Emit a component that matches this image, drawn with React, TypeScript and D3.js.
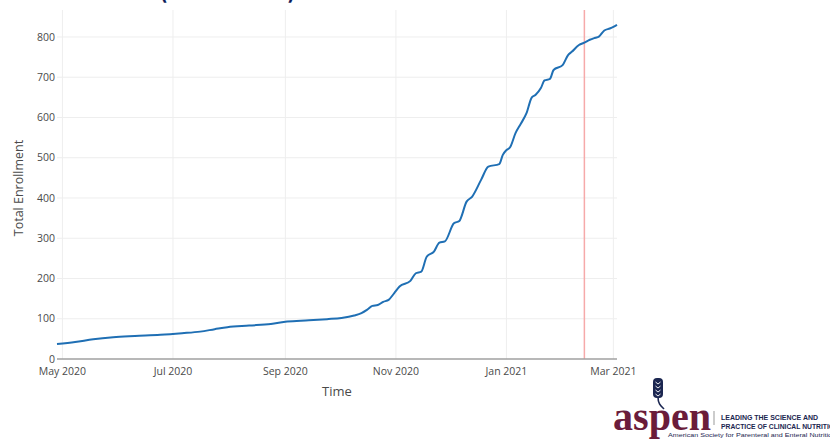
import { useEffect, useRef } from 'react';
import * as d3 from 'd3';

// cumulative enrollment
const dates = [
  '2020-04-28', '2020-05-08', '2020-05-18', '2020-05-29', '2020-06-10', '2020-06-24',
  '2020-07-06', '2020-07-16', '2020-07-24', '2020-07-31', '2020-08-12', '2020-08-24',
  '2020-09-02', '2020-09-14', '2020-09-24', '2020-10-02', '2020-10-09', '2020-10-13',
  '2020-10-16', '2020-10-19', '2020-10-22', '2020-10-25', '2020-10-28', '2020-10-31',
  '2020-11-03', '2020-11-09', '2020-11-12', '2020-11-15', '2020-11-18', '2020-11-22',
  '2020-11-25', '2020-11-28', '2020-12-03', '2020-12-06', '2020-12-10', '2020-12-13',
  '2020-12-18', '2020-12-22', '2020-12-28', '2020-12-30', '2021-01-01', '2021-01-03',
  '2021-01-06', '2021-01-09', '2021-01-12', '2021-01-15', '2021-01-17', '2021-01-20',
  '2021-01-22', '2021-01-25', '2021-01-27', '2021-02-01', '2021-02-04', '2021-02-06',
  '2021-02-10', '2021-02-13', '2021-02-16', '2021-02-19', '2021-02-21', '2021-02-24',
  '2021-02-27', '2021-03-01', '2021-03-03',
];
const enrollment = [
  37, 42, 49, 54, 57, 60,
  64, 68, 74, 79, 83, 87,
  93, 96, 99, 102, 108, 114,
  122, 132, 134, 142, 147, 163,
  180, 194, 213, 217, 254, 267,
  289, 292, 337, 343, 391, 403,
  445, 478, 484, 507, 519, 526,
  561, 585, 610, 650, 656, 673,
  692, 696, 718, 730, 755, 763,
  780, 786, 793, 798, 801, 816,
  821, 825, 830,
];
const xTickDates = ['2020-05-01', '2020-07-01', '2020-09-01', '2020-11-01', '2021-01-01', '2021-03-01'];
const yTicks = [0, 100, 200, 300, 400, 500, 600, 700, 800];
const markerDate = '2021-02-13';

const App = () => {
  const svgRef = useRef<SVGSVGElement>(null);

  useEffect(() => {
    const width = 830;
    const height = 439;
    const parse = d3.timeParse('%Y-%m-%d');
    const data = dates.map((d, i) => ({ date: parse(d) as Date, value: enrollment[i] }));

    const svg = d3.select(svgRef.current);
    svg.selectAll('*').remove();
    svg.attr('width', width).attr('height', height);

    const left = 57, right = 617, top = 10, bottom = 359;

    const x = d3
      .scaleTime()
      .domain(d3.extent(data, d => d.date) as [Date, Date])
      .range([left, right]);
    const y = d3.scaleLinear().domain([0, 867]).range([bottom, top]);

    svg.append('rect').attr('width', width).attr('height', height).attr('fill', '#fff');

    // cut-off slide title
    svg
      .append('text')
      .attr('x', 160)
      .attr('y', -2)
      .style('font-family', '"Open Sans", sans-serif')
      .style('font-size', '30px')
      .style('font-weight', 'bold')
      .attr('fill', '#0b1d5c')
      .attr('textLength', 135)
      .attr('lengthAdjust', 'spacingAndGlyphs')
      .text('(Cumulative)');

    const tickDates = xTickDates.map(d => parse(d) as Date);

    // grid
    svg
      .append('g')
      .selectAll('line')
      .data(tickDates)
      .enter()
      .append('line')
      .attr('x1', d => x(d))
      .attr('x2', d => x(d))
      .attr('y1', top)
      .attr('y2', bottom)
      .attr('stroke', '#eee')
      .attr('stroke-width', 1);
    svg
      .append('g')
      .selectAll('line')
      .data(yTicks.slice(1))
      .enter()
      .append('line')
      .attr('x1', left)
      .attr('x2', right)
      .attr('y1', d => y(d))
      .attr('y2', d => y(d))
      .attr('stroke', '#eee')
      .attr('stroke-width', 1);

    // marker line
    const md = parse(markerDate) as Date;
    svg
      .append('line')
      .attr('x1', x(md))
      .attr('x2', x(md))
      .attr('y1', top)
      .attr('y2', bottom)
      .attr('stroke', '#f6aaaa')
      .attr('stroke-width', 1.5);

    // axis line
    svg
      .append('line')
      .attr('x1', left)
      .attr('x2', right)
      .attr('y1', y(0))
      .attr('y2', y(0))
      .attr('stroke', '#a0a0a0')
      .attr('stroke-width', 1.5);

    // tick labels
    const fmt = d3.timeFormat('%b %Y');
    svg
      .append('g')
      .selectAll('text')
      .data(tickDates)
      .enter()
      .append('text')
      .attr('x', d => x(d))
      .attr('y', 375)
      .attr('text-anchor', 'middle')
      .style('font-family', '"Open Sans", sans-serif')
      .style('font-size', '10.5px')
      .attr('fill', '#4a4a4a')
      .text(d => fmt(d));
    svg
      .append('g')
      .selectAll('text')
      .data(yTicks)
      .enter()
      .append('text')
      .attr('x', 55)
      .attr('y', d => y(d))
      .attr('dy', '0.34em')
      .attr('text-anchor', 'end')
      .style('font-family', '"Open Sans", sans-serif')
      .style('font-size', '10.5px')
      .attr('fill', '#4a4a4a')
      .text(d => String(d));

    // axis titles
    svg
      .append('text')
      .attr('x', 337)
      .attr('y', 396)
      .attr('text-anchor', 'middle')
      .style('font-family', '"Open Sans", sans-serif')
      .style('font-size', '13px')
      .attr('fill', '#4a4a4a')
      .text('Time');
    svg
      .append('text')
      .attr('transform', 'translate(23, 188) rotate(-90)')
      .attr('text-anchor', 'middle')
      .style('font-family', '"Open Sans", sans-serif')
      .style('font-size', '12.5px')
      .attr('fill', '#4a4a4a')
      .text('Total Enrollment');

    // series
    const line = d3
      .line<{ date: Date; value: number }>()
      .x(d => x(d.date))
      .y(d => y(d.value))
      .curve(d3.curveMonotoneX);
    svg
      .append('path')
      .datum(data)
      .attr('fill', 'none')
      .attr('stroke', '#1f6fb4')
      .attr('stroke-width', 2)
      .attr('stroke-linejoin', 'round')
      .attr('d', line);

    // ASPEN logo
    const logo = svg.append('g');
    logo
      .append('path')
      .attr('d', 'M658,397 C658,404 661,406 664,409')
      .attr('fill', 'none')
      .attr('stroke', '#1b2650')
      .attr('stroke-width', 1.6);
    logo
      .append('rect')
      .attr('x', 653)
      .attr('y', 378)
      .attr('width', 10)
      .attr('height', 20)
      .attr('rx', 4)
      .attr('fill', '#1b2650');
    logo
      .append('g')
      .selectAll('path')
      .data([382, 386, 390, 394])
      .enter()
      .append('path')
      .attr('d', d => `M655.5,${d} L658,${d + 2} L660.5,${d}`)
      .attr('fill', 'none')
      .attr('stroke', '#fff')
      .attr('stroke-width', 0.9);
    logo
      .append('text')
      .attr('x', 613)
      .attr('y', 430)
      .style('font-family', '"Liberation Serif", serif')
      .style('font-size', '39px')
      .style('font-weight', 'bold')
      .attr('fill', '#6a1c3a')
      .attr('textLength', 98)
      .attr('lengthAdjust', 'spacingAndGlyphs')
      .text('aspen');
    logo
      .append('line')
      .attr('x1', 714)
      .attr('x2', 714)
      .attr('y1', 411)
      .attr('y2', 425)
      .attr('stroke', '#999')
      .attr('stroke-width', 1);
    logo
      .append('text')
      .attr('x', 721)
      .attr('y', 420)
      .style('font-family', '"Liberation Sans", sans-serif')
      .style('font-size', '8px')
      .style('font-weight', 'bold')
      .attr('fill', '#1b2650')
      .attr('textLength', 97)
      .attr('lengthAdjust', 'spacingAndGlyphs')
      .text('LEADING THE SCIENCE AND');
    logo
      .append('text')
      .attr('x', 721)
      .attr('y', 429)
      .style('font-family', '"Liberation Sans", sans-serif')
      .style('font-size', '8px')
      .style('font-weight', 'bold')
      .attr('fill', '#1b2650')
      .attr('textLength', 118)
      .attr('lengthAdjust', 'spacingAndGlyphs')
      .text('PRACTICE OF CLINICAL NUTRITION');
    logo
      .append('text')
      .attr('x', 668)
      .attr('y', 437)
      .style('font-family', '"Liberation Sans", sans-serif')
      .style('font-size', '5.5px')
      .attr('fill', '#1b2650')
      .attr('textLength', 168)
      .attr('lengthAdjust', 'spacingAndGlyphs')
      .text('American Society for Parenteral and Enteral Nutrition');
  }, []);

  return (
    <div style={{ position: 'absolute', left: 0, top: 0 }}>
      <svg ref={svgRef} style={{ display: 'block' }}></svg>
    </div>
  );
};

export default App;
